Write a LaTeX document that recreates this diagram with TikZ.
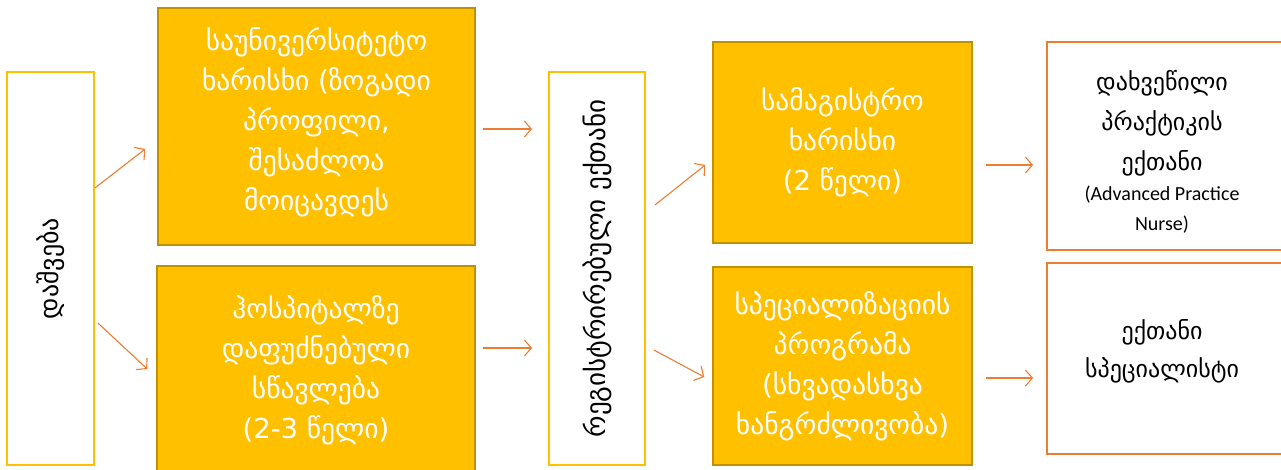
\documentclass[tikz,border=0pt]{standalone}
\usepackage{fontspec}
\setmainfont{DejaVu Sans}
\newfontfamily\lat{Carlito}
\usetikzlibrary{arrows.meta,calc}
\definecolor{gold}{HTML}{FFC000}
\definecolor{darkgold}{HTML}{BF9000}
\definecolor{orng}{HTML}{ED7D31}
\begin{document}
\begin{tikzpicture}[x=1pt,y=-1pt,
  filled/.style={fill=gold, draw=darkgold, line width=1.5pt, text=white, align=center,
    font=\fontsize{27.5}{40}\selectfont, inner sep=0pt},
  plainbox/.style={fill=white, draw=gold, line width=1.8pt, text=black, inner sep=0pt},
  resbox/.style={fill=white, draw=orng, line width=1.8pt, text=black, align=center, inner sep=0pt},
  arr/.style={draw=orng, line width=1.1pt, -{Straight Barb[length=7pt,width=16pt,line width=1.1pt]}}
]
\useasboundingbox (0,0) rectangle (1281,470);

\node[plainbox, minimum width=87pt, minimum height=393pt] (L) at (50.5,268.5) {};
\node[rotate=90, font=\fontsize{26}{30}\selectfont] (Lt) at (L.center) {დაშვება};

\node[filled, minimum width=317pt, minimum height=237pt] (b1) at (316.5,126.5) {};
\node[text=white, align=center, font=\fontsize{27.5}{40}\selectfont, anchor=north, inner sep=0pt] (b1t) at (316.5,27)
  {საუნივერსიტეტო\\ხარისხი (ზოგადი\\პროფილი,\\შესაძლოა\\მოიცავდეს};

\node[filled, minimum width=318pt, minimum height=208pt] (b2) at (316,370)
  {ჰოსპიტალზე\\დაფუძნებული\\სწავლება\\(2-3 წელი)};

\node[plainbox, minimum width=96pt, minimum height=393pt] (M) at (597,268.5) {};
\node[rotate=90, font=\fontsize{27}{30}\selectfont] (Mt) at (M.center) {რეგისტრირებული ექთანი};

\node[filled, minimum width=259pt, minimum height=201pt] (b3) at (842.5,142.5)
  {სამაგისტრო\\ხარისხი\\(2 წელი)};
\node[filled, minimum width=259pt, minimum height=198pt] (b4) at (842.5,366)
  {სპეციალიზაციის\\პროგრამა\\(სხვადასხვა\\ხანგრძლივობა)};

\node[resbox, minimum width=236pt, minimum height=208pt] (b5) at (1165,146) {};
\node[align=center, font=\fontsize{24}{40}\selectfont, inner sep=0pt] (b5t) at (1162,152)
  {დახვეწილი\\პრაქტიკის\\ექთანი\\[-10pt]{\lat\fontsize{20}{29}\selectfont (Advanced Practice}\\[-10pt]{\lat\fontsize{20}{29}\selectfont Nurse)}};
\node[resbox, minimum width=236pt, minimum height=191pt] (b6) at (1165,358.5) {};
\node[align=center, font=\fontsize{24}{38}\selectfont, inner sep=0pt] (b6t) at (1162,351.5)
  {ექთანი\\სპეციალისტი};

\draw[arr] ($(L.east)+(0,-80.5)$) -- ($(b1.west)+(-12,22.5)$);
\draw[arr] ($(L.east)+(3,54.5)$) -- ($(b2.west)+(-9,-1)$);
\draw[arr] ($(b1.east)+(7,2.5)$) -- ($(M.west)+(-16,-139.5)$);
\draw[arr] ($(b2.east)+(7,-22)$) -- ($(M.west)+(-16,79.5)$);
\draw[arr] ($(M.east)+(9,-63.5)$) -- ($(b3.west)+(-7,22.5)$);
\draw[arr] ($(M.east)+(8,81.5)$) -- ($(b4.west)+(-8,11)$);
\draw[arr] ($(b3.east)+(13,22.5)$) -- ($(b5.west)+(-13,19)$);
\draw[arr] ($(b4.east)+(13,12)$) -- ($(b6.west)+(-13,19.5)$);
\end{tikzpicture}
\end{document}
